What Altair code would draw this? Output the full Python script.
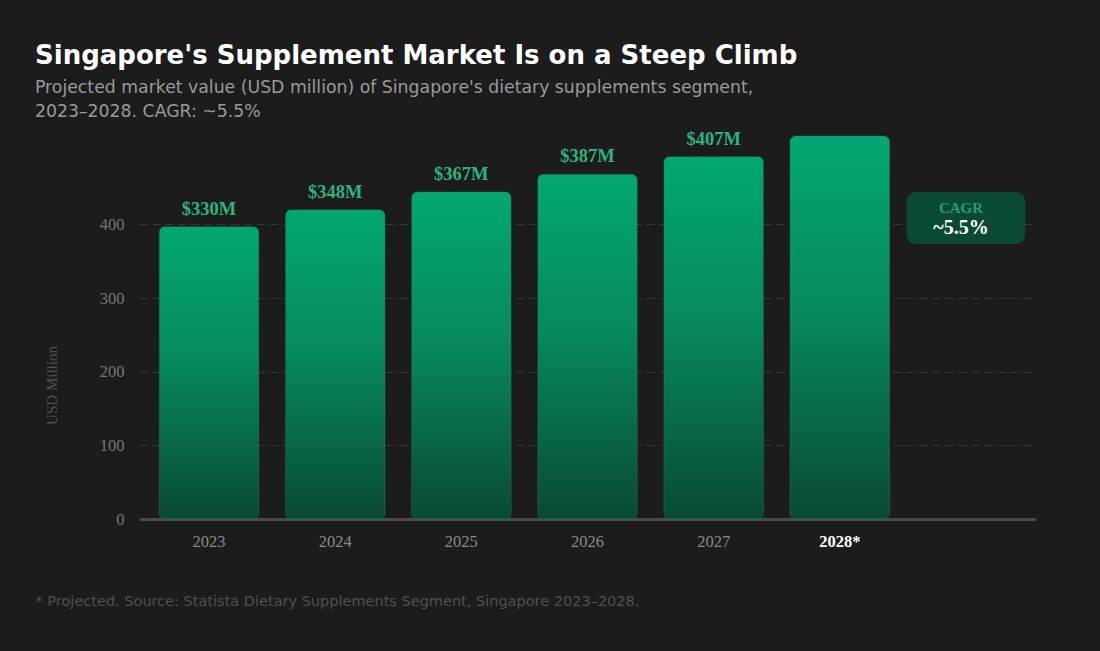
import altair as alt
import pandas as pd

# ---- data ----
years = ["2023", "2024", "2025", "2026", "2027", "2028*"]
bar_values = [397, 420, 444, 468, 492, 520]          # bar heights as drawn on the USD Million axis
value_labels = ["$330M", "$348M", "$367M", "$387M", "$407M", ""]
extra_slot = ["CAGR"]                                  # empty slot holding the CAGR badge
y_ticks = [0, 100, 200, 300, 400]
cagr_title = ["CAGR"]
cagr_value = ["~5.5%"]

title = "Singapore's Supplement Market Is on a Steep Climb"
subtitle = ["Projected market value (USD million) of Singapore's dietary supplements segment,",
            "2023\u20132028. CAGR: ~5.5%"]
footer = "* Projected. Source: Statista Dietary Supplements Segment, Singapore 2023\u20132028."

df = pd.DataFrame({"year": years, "value": bar_values, "label": value_labels})
cagr_df = pd.DataFrame({"year": extra_slot, "title": cagr_title, "val": cagr_value})

SERIF = "Liberation Serif"
SANS = "DejaVu Sans"
order = years + extra_slot

x_enc = alt.X(
    "year:N",
    sort=order,
    scale=alt.Scale(domain=order, paddingInner=0.21, paddingOuter=0.16),
    axis=alt.Axis(
        title=footer,
        titleX=-104, titleY=82, titleAlign="left", titleBaseline="middle",
        titleFont=SANS, titleFontSize=14.5, titleFontWeight="normal", titleColor="#505050",
        labelExpr="datum.value == 'CAGR' ? '' : datum.label",
        labelFont=SERIF, labelFontSize=16.5, labelPadding=14, labelAngle=0,
        labelColor=alt.condition("datum.value == '2028*'", alt.value("#ffffff"), alt.value("#8a8a8a")),
        labelFontWeight=alt.condition("datum.value == '2028*'", alt.value("bold"), alt.value("normal")),
        domainColor="#4a4a4a", domainWidth=3, ticks=False, grid=False,
    ),
)

y_enc = alt.Y(
    "value:Q",
    scale=alt.Scale(domain=[0, 520], nice=False),
    axis=alt.Axis(
        values=y_ticks, title="USD Million",
        titleFont=SERIF, titleFontSize=15, titleFontWeight="normal", titleColor="#505050",
        titleX=-88, titleY=249, titleAngle=-90, titleAlign="center", titleBaseline="middle",
        labelFont=SERIF, labelFontSize=16.5, labelColor="#777777", labelPadding=15,
        domain=False, ticks=False,
        grid=True, gridColor="#383838", gridDash=[8, 5], gridWidth=1,
    ),
)

grad = alt.Gradient(
    gradient="linear",
    stops=[alt.GradientStop(color="#03a773", offset=0),
           alt.GradientStop(color="#078a5e", offset=0.45),
           alt.GradientStop(color="#094a33", offset=1)],
    x1=0, x2=0, y1=0, y2=1,
)

bars = alt.Chart(df).mark_bar(
    fill=grad, cornerRadius=6, stroke="#1b8e64", strokeOpacity=0.35, strokeWidth=1
).encode(x=x_enc, y=y_enc)

labels = alt.Chart(df).mark_text(
    font=SERIF, fontSize=18.5, fontWeight="bold", color="#2db37e",
    baseline="alphabetic", dy=-12,
).encode(x=alt.X("year:N", sort=order), y="value:Q", text="label:N")

badge = alt.Chart(cagr_df).mark_bar(
    width=119, color="#0a4a34", cornerRadius=10
).encode(x=alt.X("year:N", sort=order), y=alt.value(56), y2=alt.value(108))

badge_title = alt.Chart(cagr_df).mark_text(
    font=SERIF, fontSize=15, fontWeight="bold", color="#2a9c70", baseline="middle", dx=-5
).encode(x=alt.X("year:N", sort=order), y=alt.value(72), text="title:N")

badge_val = alt.Chart(cagr_df).mark_text(
    font=SERIF, fontSize=20, fontWeight="bold", color="#ffffff", baseline="middle", dx=-5
).encode(x=alt.X("year:N", sort=order), y=alt.value(92), text="val:N")

chart = alt.layer(bars, labels, badge, badge_title, badge_val).properties(
    width=897,
    height=383,
    autosize=alt.AutoSizeParams(type="none"),
    padding={"left": 139, "top": 136, "right": 64, "bottom": 132},
    background="#1c1c1c",
    title=alt.TitleParams(
        text=title, subtitle=subtitle,
        anchor="start", frame="group", dx=-104, dy=25, offset=14,
        font=SANS, fontSize=26, fontWeight="bold", color="#ffffff",
        subtitleFont=SANS, subtitleFontSize=17.3, subtitleColor="#9a9a9a",
        subtitleLineHeight=24, subtitlePadding=10,
    ),
).configure_view(stroke=None)

chart.save("out.html", embed_options={"renderer": "svg", "actions": False})
